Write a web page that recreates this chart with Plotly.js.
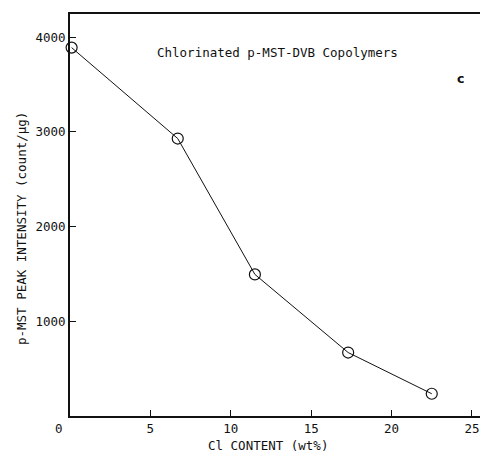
<!DOCTYPE html>
<html><head><meta charset="utf-8">
<script src="https://cdn.plot.ly/plotly-3.0.1.min.js"></script>
<style>body{margin:0;background:#fff}#c{width:480px;height:454px}</style>
</head><body><div id="c"></div>
<script>
const clContent = [0.1, 6.7, 11.5, 17.3, 22.5];
const peakIntensity = [3890, 2930, 1495, 670, 235];
const xTicks = [0, 5, 10, 15, 20, 25];
const xTickText = ["0\u2007\u2007\u2007", "5", "10", "15", "20", "25"];
const yTicks = [1000, 2000, 3000, 4000];
const chartTitle = "Chlorinated p-MST-DVB Copolymers";
const panelLabel = "c";
const xTitle = "Cl CONTENT (wt%)";
const yTitle = "p-MST PEAK INTENSITY (count/\u03bcg)";

const font = {family: "DejaVu Sans Mono, Liberation Mono, monospace", color: "#111", size: 12};

Plotly.newPlot("c", [{
  x: clContent, y: peakIntensity, type: "scatter", mode: "lines+markers",
  line: {color: "#111", width: 1},
  marker: {symbol: "circle-open", size: 11, color: "#111", line: {width: 1.2, color: "#111"}},
  cliponaxis: false
}], {
  width: 480, height: 454,
  margin: {l: 70, r: 0, t: 14, b: 38},
  paper_bgcolor: "#fff", plot_bgcolor: "#fff",
  showlegend: false, font: font,
  xaxis: {range: [0, 25.5], tickvals: xTicks, ticktext: xTickText,
    ticks: "inside", ticklen: 6, tickcolor: "#111", showline: true, linecolor: "#111", linewidth: 2,
    mirror: true, showgrid: false, zeroline: false, tickfont: {size: 12.5},
    ticklabeloverflow: "allow"},
  yaxis: {range: [0, 4245], tickvals: yTicks, ticktext: yTicks.map(String),
    ticks: "inside", ticklen: 6, tickcolor: "#111", showline: true, linecolor: "#111", linewidth: 2,
    showgrid: false, zeroline: false, tickfont: {size: 12.5}},
  annotations: [
    {text: chartTitle, xref: "x", yref: "paper", x: 12.9, y: 0.927, showarrow: false, font: {size: 12.5}},
    {text: "<b>" + panelLabel + "</b>", xref: "x", yref: "paper", x: 24.3, y: 0.862, showarrow: false, font: {size: 12.5, family: "DejaVu Sans, sans-serif"}},
    {text: xTitle, xref: "paper", yref: "paper", x: (268 - 70) / 410, y: -(445 - 416) / 402, yanchor: "middle", showarrow: false, font: {size: 12.5}},
    {text: yTitle, xref: "paper", yref: "paper", x: (22 - 70) / 410, y: (416 - 229) / 402, xanchor: "center", yanchor: "middle", textangle: -90, showarrow: false, font: {size: 12.5}}
  ]
}, {staticPlot: true});
</script></body></html>
